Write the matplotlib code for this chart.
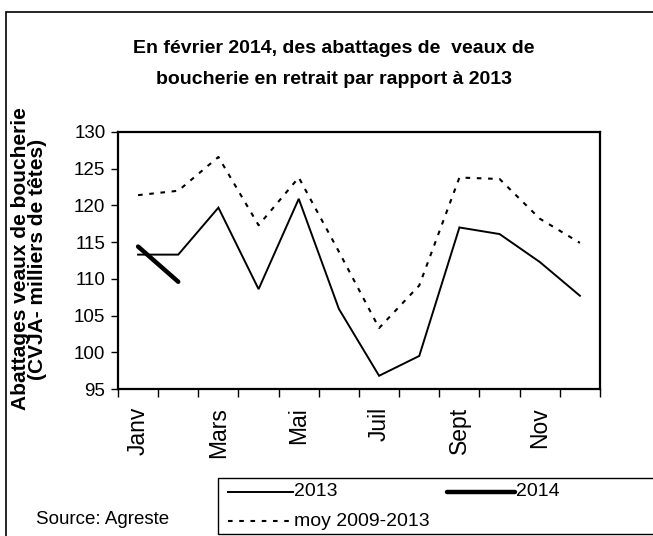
import matplotlib
matplotlib.use("Agg")
import matplotlib.pyplot as plt
from matplotlib.patches import Rectangle
from matplotlib.lines import Line2D

plt.rcParams['font.family'] = ['Liberation Sans', 'DejaVu Sans']

months = ["Janv", "Févr", "Mars", "Avr", "Mai", "Juin", "Juil", "Août", "Sept", "Oct", "Nov", "Déc"]
tick_labels = ["Janv", "", "Mars", "", "Mai", "", "Juil", "", "Sept", "", "Nov", ""]
v2013 = [113.3, 113.3, 119.7, 108.6, 120.9, 105.9, 96.8, 99.5, 117.0, 116.1, 112.3, 107.7]
v2014 = [114.4, 109.6]
vmoy = [121.4, 122.0, 126.6, 117.3, 123.8, 113.7, 103.3, 109.1, 123.8, 123.6, 118.2, 114.9]

W, H = 653, 536
fig = plt.figure(figsize=(W / 100, H / 100), dpi=100)

# outer frame
fig.patches.append(Rectangle((6 / W, -0.1), 1.2, 1 - 12 / H + 0.1, transform=fig.transFigure,
                             fill=False, edgecolor='black', linewidth=1.2))

ax = fig.add_axes([118 / W, 1 - 389 / H, (600 - 118) / W, (389 - 132) / H])
x = list(range(len(months)))
ax.plot(x, v2013, color='black', lw=1.4, solid_joinstyle='miter')
ax.plot(x[:len(v2014)], v2014, color='black', lw=3.2, solid_capstyle='round')
ax.plot(x, vmoy, color='black', lw=1.5, dashes=(2.2, 3.2))

ax.set_xlim(-0.5, 11.5)
ax.set_ylim(95, 130)
ax.set_yticks(range(95, 131, 5))
ax.set_xticks([i - 0.5 for i in range(13)])
ax.set_xticklabels([])
ax.set_xticks(x, minor=True)
ax.set_xticklabels(tick_labels, minor=True, rotation=90, fontsize=16.5)
ax.tick_params(axis='x', which='minor', length=0, pad=13)
ax.tick_params(axis='x', which='major', length=6, width=1, direction='out')
ax.tick_params(axis='y', length=5, width=1, direction='out', labelsize=13.5, pad=4)
for s in ax.spines.values():
    s.set_linewidth(1.6)

fig.text(29 / W, 1 - 259 / H, "Abattages veaux de boucherie\n(CVJA- milliers de têtes)", fontsize=15,
         fontweight='bold', linespacing=0.85, rotation=90, ha='center', va='center')

fig.text(334 / W, 1 - 48.5 / H, "En février 2014, des abattages de  veaux de", ha='center', va='center',
         fontsize=14, fontweight='bold')
fig.text(334 / W, 1 - 79 / H, "boucherie en retrait par rapport à 2013", ha='center', va='center',
         fontsize=14, fontweight='bold')

fig.text(36 / W, 1 - 520 / H, "Source: Agreste", ha='left', va='center', fontsize=13.5)

# legend box
fig.patches.append(Rectangle((218 / W, 1 - 534 / H), 1.0, (534 - 478) / H, transform=fig.transFigure,
                             fill=False, edgecolor='black', linewidth=1.0))
def leg_line(x0, x1, y, **kw):
    fig.lines.append(Line2D([x0 / W, x1 / W], [1 - y / H, 1 - y / H], transform=fig.transFigure,
                            color='black', **kw))
leg_line(228, 293, 492, lw=1.4)
fig.text(294 / W, 1 - 492 / H, "2013", ha='left', va='center', fontsize=14)
leg_line(447, 515, 492, lw=3.2, solid_capstyle='round')
fig.text(516 / W, 1 - 492 / H, "2014", ha='left', va='center', fontsize=14)
leg_line(228, 293, 521, lw=1.5, dashes=(2.2, 3.2))
fig.text(294 / W, 1 - 521 / H, "moy 2009-2013", ha='left', va='center', fontsize=14)

fig.savefig("out.png", dpi=100)
